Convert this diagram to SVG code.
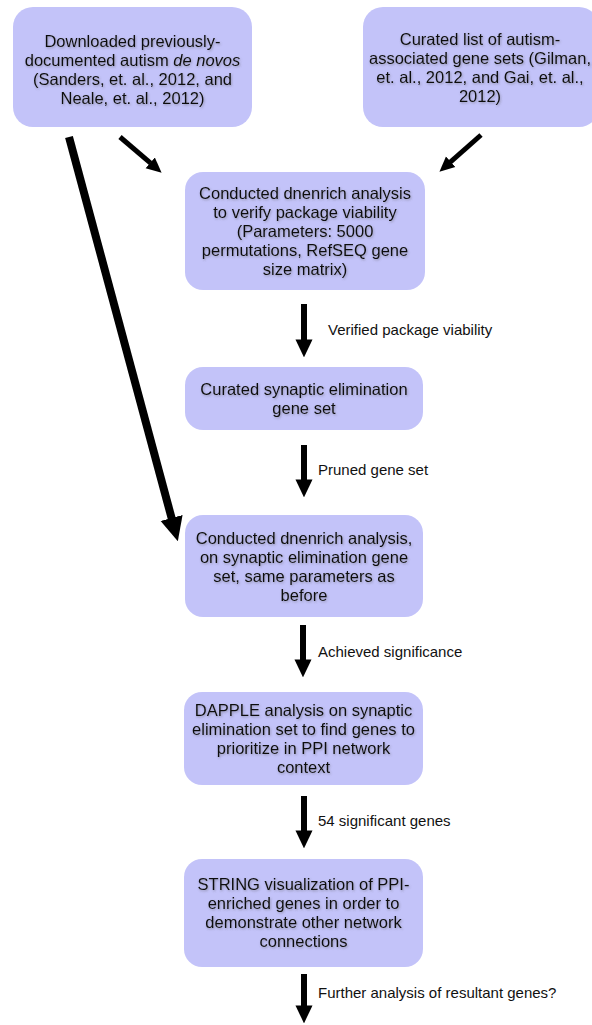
<svg xmlns="http://www.w3.org/2000/svg" width="592" height="1025" viewBox="0 0 592 1025">
<defs>
<style>
.box{fill:#c3c3f9;}
.t{font-family:"Liberation Sans",Arial,sans-serif;font-size:16.5px;fill:#111;text-anchor:middle;filter:url(#ts);}
.lbl{font-family:"Liberation Sans",Arial,sans-serif;font-size:15px;fill:#111;}
.arr{stroke:#000;fill:none;stroke-linecap:butt;marker-end:url(#head);}
</style>
<filter id="ts" x="-10%" y="-30%" width="120%" height="160%">
<feDropShadow dx="0.8" dy="1.2" stdDeviation="0.9" flood-color="#555" flood-opacity="0.45"/>
</filter>
<marker id="head" viewBox="0 0 3 3" markerWidth="3" markerHeight="3" refX="0.1" refY="1.5" orient="auto" markerUnits="strokeWidth">
<path d="M0,0.08 L3,1.5 L0,2.92 z" fill="#000"/>
</marker>
</defs>
<rect width="592" height="1025" fill="#fff"/>

<g id="connectors">
<line class="arr" x1="120" y1="137" x2="150.6" y2="163.2" stroke-width="5"/>
<line class="arr" x1="481" y1="135" x2="450.3" y2="162.1" stroke-width="5"/>
<line class="arr" x1="69" y1="137" x2="171.8" y2="518.8" stroke-width="8"/>
<line class="arr" x1="304" y1="304" x2="304" y2="340" stroke-width="6"/>
<line class="arr" x1="304" y1="445" x2="304" y2="480" stroke-width="6"/>
<line class="arr" x1="303" y1="625" x2="303" y2="660" stroke-width="6"/>
<line class="arr" x1="304" y1="796" x2="304" y2="831" stroke-width="6"/>
<line class="arr" x1="304" y1="974" x2="304" y2="1006" stroke-width="6"/>
<text class="lbl" x="328" y="335">Verified package viability</text>
<text class="lbl" x="318" y="475">Pruned gene set</text>
<text class="lbl" x="318" y="657">Achieved significance</text>
<text class="lbl" x="318" y="826">54 significant genes</text>
<text class="lbl" x="318" y="998">Further analysis of resultant genes?</text>
</g>

<g id="node1">
<rect class="box" x="13" y="7" width="239" height="120" rx="20"/>
<text class="t" x="132.5" y="47">Downloaded previously-</text>
<text class="t" x="132.5" y="66">documented autism <tspan font-style="italic">de novos</tspan></text>
<text class="t" x="132.5" y="85">(Sanders, et. al., 2012, and</text>
<text class="t" x="132.5" y="104">Neale, et. al., 2012)</text>
</g>

<g id="node2">
<rect class="box" x="363" y="7" width="236" height="120" rx="20"/>
<text class="t" x="480" y="45">Curated list of autism-</text>
<text class="t" x="480" y="64">associated gene sets (Gilman,</text>
<text class="t" x="480" y="83">et. al., 2012, and Gai, et. al.,</text>
<text class="t" x="480" y="102">2012)</text>
</g>

<g id="node3">
<rect class="box" x="185" y="172" width="240" height="118" rx="18"/>
<text class="t" x="305" y="199">Conducted dnenrich analysis</text>
<text class="t" x="305" y="218">to verify package viability</text>
<text class="t" x="305" y="237">(Parameters: 5000</text>
<text class="t" x="305" y="256">permutations, RefSEQ gene</text>
<text class="t" x="305" y="275">size matrix)</text>
</g>

<g id="node4">
<rect class="box" x="185" y="367" width="238" height="63" rx="18"/>
<text class="t" x="304" y="395">Curated synaptic elimination</text>
<text class="t" x="304" y="414">gene set</text>
</g>

<g id="node5">
<rect class="box" x="185" y="515" width="238" height="102" rx="18"/>
<text class="t" x="304" y="544">Conducted dnenrich analysis,</text>
<text class="t" x="304" y="563">on synaptic elimination gene</text>
<text class="t" x="304" y="582">set, same parameters as</text>
<text class="t" x="304" y="601">before</text>
</g>

<g id="node6">
<rect class="box" x="184" y="692" width="239" height="93" rx="18"/>
<text class="t" x="303.5" y="716">DAPPLE analysis on synaptic</text>
<text class="t" x="303.5" y="735">elimination set to find genes to</text>
<text class="t" x="303.5" y="754">prioritize in PPI network</text>
<text class="t" x="303.5" y="773">context</text>
</g>

<g id="node7">
<rect class="box" x="184" y="859" width="239" height="108" rx="18"/>
<text class="t" x="303.5" y="890">STRING visualization of PPI-</text>
<text class="t" x="303.5" y="909">enriched genes in order to</text>
<text class="t" x="303.5" y="928">demonstrate other network</text>
<text class="t" x="303.5" y="947">connections</text>
</g>
</svg>
